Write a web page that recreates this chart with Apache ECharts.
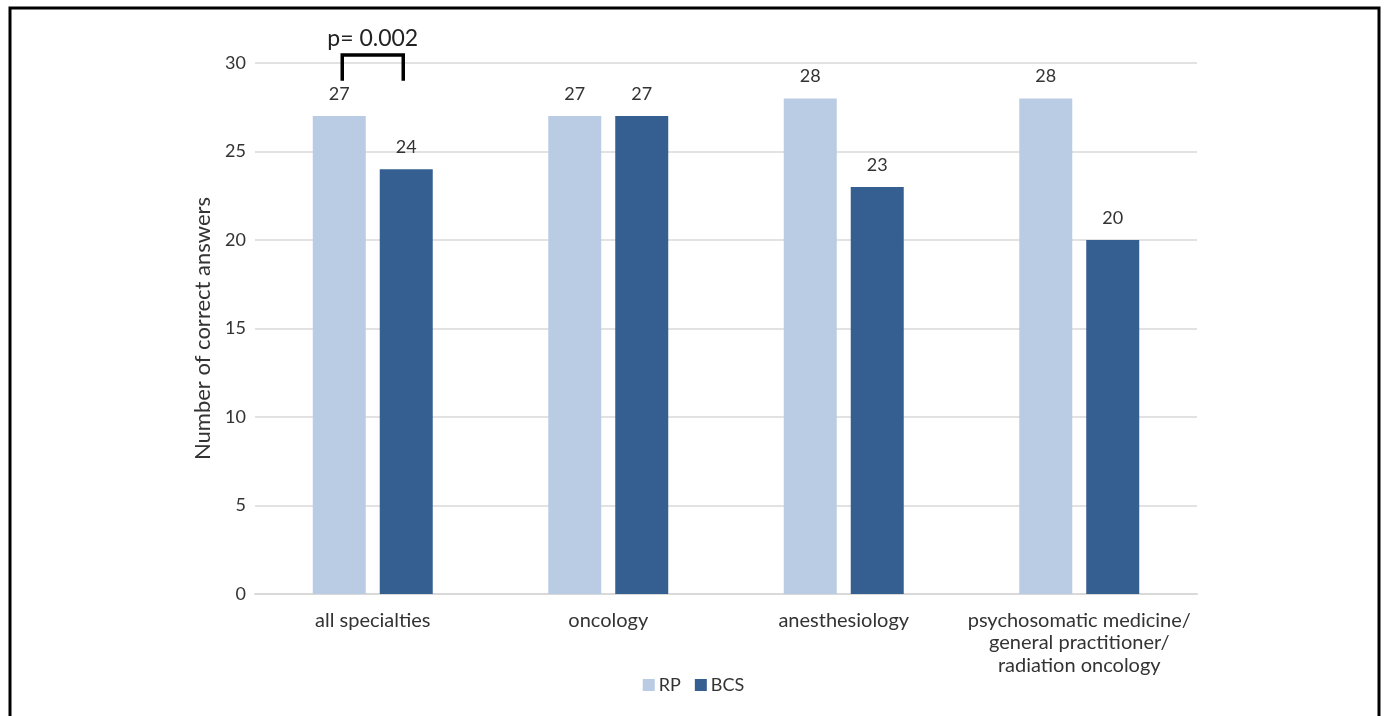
<!DOCTYPE html>
<html>
<head>
<meta charset="utf-8">
<script src="https://cdn.jsdelivr.net/npm/echarts@6/dist/echarts.min.js"></script>
<style>
  html, body { margin: 0; padding: 0; background: #fff; }
  #chart { width: 1387px; height: 716px; }
</style>
</head>
<body>
<div id="chart"></div>
<script>
// Specialty groups on the x axis
const categories = [
  'all specialties',
  'oncology',
  'anesthesiology',
  'psychosomatic medicine/\ngeneral practitioner/\nradiation oncology'
];
// Correct answers per group
const rpValues = [27, 27, 28, 28];
const bcsValues = [24, 27, 23, 20];
const seriesNames = ['RP', 'BCS'];
// Significance annotation for the first group
const pLabel = 'p= 0.002';
const pCategoryIndex = 0;
const pBracketTop = 30.45;
const pBracketBottom = 29.0;
const pTextLevel = 31.4;

const FONT = 'Lato, "Open Sans", sans-serif';
const TEXT = '#333333';
const BAR_W = 53;
const BAR_GAP = 14;
const FS = 18;

const chart = echarts.init(document.getElementById('chart'));

chart.setOption({
  animation: false,
  textStyle: { fontFamily: FONT },
  graphic: [{
    type: 'rect',
    shape: { x: 10, y: 8, width: 1369, height: 740 },
    style: { fill: 'none', stroke: '#000', lineWidth: 3 },
    z: 100
  }],
  grid: { left: 255, right: 190, top: 63, bottom: 122 },
  legend: {
    data: seriesNames,
    bottom: 17,
    left: 'center',
    itemWidth: 12,
    itemHeight: 12,
    itemGap: 14,
    icon: 'rect',
    textStyle: { fontSize: FS, color: TEXT, fontFamily: FONT, padding: [0, 0, 0, -1] }
  },
  xAxis: {
    type: 'category',
    data: categories,
    axisLine: { lineStyle: { color: '#D9D9D9', width: 2 } },
    axisTick: { show: false },
    axisLabel: {
      color: TEXT, fontSize: 20, lineHeight: 22.5, margin: 15,
      fontFamily: FONT, interval: 0, align: 'center'
    }
  },
  yAxis: {
    type: 'value',
    min: 0, max: 30, interval: 5,
    name: 'Number of correct answers',
    nameLocation: 'middle',
    nameGap: 39,
    nameTextStyle: { color: TEXT, fontSize: 22, fontFamily: FONT },
    axisLine: { show: false },
    axisTick: { show: false },
    axisLabel: { color: TEXT, fontSize: FS, margin: 9, fontFamily: FONT },
    splitLine: { lineStyle: { color: '#D9D9D9', width: 1.5 } }
  },
  series: [
    {
      name: seriesNames[0],
      type: 'bar',
      data: rpValues,
      barWidth: BAR_W,
      barGap: (BAR_GAP / BAR_W * 100).toFixed(1) + '%',
      itemStyle: { color: '#B9CCE4' },
      label: { show: true, position: 'top', distance: 13, color: TEXT, fontSize: FS, fontFamily: FONT }
    },
    {
      name: seriesNames[1],
      type: 'bar',
      data: bcsValues,
      barWidth: BAR_W,
      itemStyle: { color: '#355F91' },
      label: { show: true, position: 'top', distance: 13, color: TEXT, fontSize: FS, fontFamily: FONT }
    },
    {
      // bracket linking the two bars of one group, with the p-value above
      type: 'custom',
      silent: true,
      clip: false,
      data: [[pCategoryIndex, pBracketTop]],
      renderItem: function (params, api) {
        const top = api.coord([api.value(0), pBracketTop]);
        const bottom = api.coord([api.value(0), pBracketBottom]);
        const textPt = api.coord([api.value(0), pTextLevel]);
        const half = (BAR_W + BAR_GAP) / 2 - 3;
        const cx = top[0];
        return {
          type: 'group',
          children: [
            {
              type: 'polyline',
              shape: { points: [[cx - half, bottom[1]], [cx - half, top[1]], [cx + half, top[1]], [cx + half, bottom[1]]] },
              style: { stroke: '#000', lineWidth: 3.5, fill: null, lineJoin: 'miter' }
            },
            {
              type: 'text',
              x: cx, y: textPt[1],
              style: {
                text: pLabel, fill: '#222', fontSize: 23, fontFamily: FONT,
                align: 'center', verticalAlign: 'middle'
              }
            }
          ]
        };
      }
    }
  ]
});
</script>
</body>
</html>
